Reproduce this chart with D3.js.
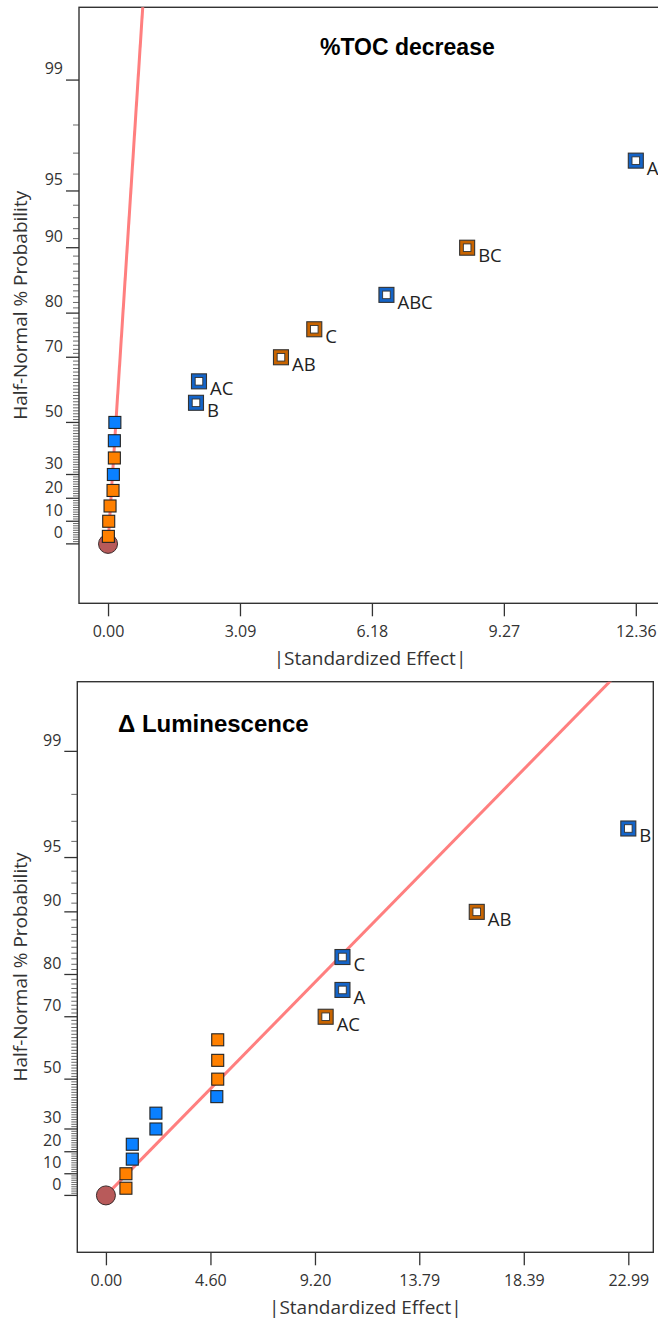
<!DOCTYPE html>
<html>
<head>
<meta charset="utf-8">
<script src="https://cdn.jsdelivr.net/npm/d3@7"></script>
<style>
  html, body { margin: 0; padding: 0; background: #fff; }
  svg { display: block; }
</style>
</head>
<body>
<svg id="chart" width="658" height="1321"></svg>
<script>
// ---------- DATA ----------
// Chart 1: %TOC decrease
const tocTerms = ["A", "BC", "ABC", "C", "AB", "AC", "B"];
const tocEffects = [12.36, 8.41, 6.52, 4.83, 4.05, 2.13, 2.06];
const tocProbs = [96.67, 90, 83.33, 76.67, 70, 63.33, 56.67];
const tocSigns = ["pos", "neg", "pos", "neg", "neg", "pos", "pos"];
const tocErrEffects = [0.16, 0.148, 0.148, 0.125, 0.117, 0.047, 0.016, 0.008];
const tocErrProbs = [50, 43.33, 36.67, 30, 23.33, 16.67, 10, 3.33];
const tocErrSigns = ["pos", "pos", "neg", "pos", "neg", "neg", "neg", "neg"];
const tocXTicks = [0.00, 3.09, 6.18, 9.27, 12.36];
const tocLineSlope = 0.2726; // effect per unit of half-normal z

// Chart 2: Δ Luminescence
const lumTerms = ["B", "AB", "C", "A", "AC"];
const lumEffects = [22.99, 16.32, 10.41, 10.41, 9.67];
const lumProbs = [96.67, 90, 83.33, 76.67, 70];
const lumSigns = ["pos", "neg", "pos", "pos", "neg"];
const lumErrEffects = [4.92, 4.92, 4.92, 4.88, 2.2, 2.2, 1.16, 1.16, 0.88, 0.88];
const lumErrProbs = [63.33, 56.67, 50, 43.33, 36.67, 30, 23.33, 16.67, 10, 3.33];
const lumErrSigns = ["neg", "neg", "neg", "pos", "pos", "pos", "pos", "pos", "neg", "neg"];
const lumXTicks = [0.00, 4.60, 9.20, 13.79, 18.39, 22.99];
const lumLineSlope = 7.44;

const yMajorTicks = [0, 10, 20, 30, 50, 70, 80, 90, 95, 99];

// ---------- HELPERS ----------
function probit(p) {
  const a = [-3.969683028665376e+01, 2.209460984245205e+02, -2.759285104469687e+02, 1.383577518672690e+02, -3.066479806614716e+01, 2.506628277459239e+00];
  const b = [-5.447609879822406e+01, 1.615858368580409e+02, -1.556989798598866e+02, 6.680131188771972e+01, -1.328068155288572e+01];
  const c = [-7.784894002430293e-03, -3.223964580411365e-01, -2.400758277161838e+00, -2.549671010161355e+00, 4.374664141464968e+00, 2.938163982698783e+00];
  const d = [7.784695709041462e-03, 3.224671290700398e-01, 2.445134137142996e+00, 3.754408661907416e+00];
  const pl = 0.02425, ph = 1 - pl;
  let q, r;
  if (p < pl) {
    q = Math.sqrt(-2 * Math.log(p));
    return (((((c[0]*q+c[1])*q+c[2])*q+c[3])*q+c[4])*q+c[5]) / ((((d[0]*q+d[1])*q+d[2])*q+d[3])*q+1);
  } else if (p <= ph) {
    q = p - 0.5; r = q * q;
    return (((((a[0]*r+a[1])*r+a[2])*r+a[3])*r+a[4])*r+a[5])*q / (((((b[0]*r+b[1])*r+b[2])*r+b[3])*r+b[4])*r+1);
  } else {
    q = Math.sqrt(-2 * Math.log(1 - p));
    return -(((((c[0]*q+c[1])*q+c[2])*q+c[3])*q+c[4])*q+c[5]) / ((((d[0]*q+d[1])*q+d[2])*q+d[3])*q+1);
  }
}
const zOf = pct => pct <= 0 ? 0 : probit(0.5 + pct / 200);

const COLORS = {
  posFill: "#0a80ff", negFill: "#ff8000",
  posRing: "#1464c8", negRing: "#c86400"
};

const svg = d3.select("#chart");
const FONT = "'Open Sans', 'Noto Sans', sans-serif";

function drawChart(cfg) {
  const x = d3.scaleLinear().domain(cfg.xDomain).range([cfg.left, cfg.right]);
  const y = d3.scaleLinear().domain([-0.33, 2.98]).range([cfg.bottom, cfg.top]);
  const g = svg.append("g");

  const clipId = "clip" + cfg.id;
  svg.append("clipPath").attr("id", clipId)
    .append("rect").attr("x", cfg.left).attr("y", cfg.top)
    .attr("width", cfg.right - cfg.left).attr("height", cfg.bottom - cfg.top);

  // frame
  g.append("rect").attr("x", cfg.left).attr("y", cfg.top)
    .attr("width", cfg.right - cfg.left).attr("height", cfg.bottom - cfg.top)
    .attr("fill", "none").attr("stroke", "#333").attr("stroke-width", 1.4);

  // y minor ticks
  const minor = d3.range(1, 99).filter(v => !yMajorTicks.includes(v));
  g.append("g").selectAll("line").data(minor).join("line")
    .attr("x1", cfg.left - 6).attr("x2", cfg.left)
    .attr("y1", d => y(zOf(d))).attr("y2", d => y(zOf(d)))
    .attr("stroke", "#444").attr("stroke-width", 0.8);
  // y major ticks
  g.append("g").selectAll("line").data(yMajorTicks).join("line")
    .attr("x1", cfg.left - 13).attr("x2", cfg.left)
    .attr("y1", d => y(zOf(d))).attr("y2", d => y(zOf(d)))
    .attr("stroke", "#333").attr("stroke-width", 1.3);
  g.append("g").selectAll("text").data(yMajorTicks).join("text")
    .attr("x", cfg.left - 16).attr("y", d => y(zOf(d)) - 10)
    .attr("text-anchor", "end").attr("dominant-baseline", "middle")
    .attr("font-family", FONT).attr("font-size", 16).attr("fill", "#333")
    .text(d => d);

  // y title
  g.append("text")
    .attr("transform", `translate(22,${(cfg.top + cfg.bottom) / 2}) rotate(-90)`)
    .attr("text-anchor", "middle").attr("dominant-baseline", "middle")
    .attr("font-family", FONT).attr("font-size", 19).attr("fill", "#333")
    .text("Half-Normal % Probability");

  // x axis
  const xa = g.append("g").attr("transform", `translate(0,${cfg.bottom})`)
    .call(d3.axisBottom(x).tickValues(cfg.xTicks).tickFormat(d3.format(".2f")).tickSize(13).tickPadding(9));
  xa.select(".domain").remove();
  xa.selectAll(".tick line").attr("stroke", "#333").attr("stroke-width", 1.3);
  xa.selectAll(".tick text").attr("font-family", FONT).attr("font-size", 16).attr("fill", "#333");
  g.append("text")
    .attr("x", (cfg.left + cfg.right) / 2).attr("y", cfg.bottom + 57)
    .attr("text-anchor", "middle").attr("dominant-baseline", "middle")
    .attr("font-family", FONT).attr("font-size", 19).attr("fill", "#333")
    .text("|Standardized Effect|");

  // fit line
  const pg = g.append("g").attr("clip-path", `url(#${clipId})`);
  pg.append("line")
    .attr("x1", x(0)).attr("y1", y(0))
    .attr("x2", x(cfg.slope * 3.2)).attr("y2", y(3.2))
    .attr("stroke", "#ff7f7f").attr("stroke-width", 3);

  // origin circle
  pg.append("circle").attr("cx", x(0)).attr("cy", y(0)).attr("r", 9.5)
    .attr("fill", "#b85a5a").attr("stroke", "#3a2a2a").attr("stroke-width", 1);

  // error points
  const errs = cfg.errEffects.map((e, i) => ({ e, p: cfg.errProbs[i], s: cfg.errSigns[i] }));
  pg.append("g").selectAll("rect").data(errs).join("rect")
    .attr("x", d => x(d.e) - 6).attr("y", d => y(zOf(d.p)) - 6)
    .attr("width", 12).attr("height", 12)
    .attr("fill", d => d.s === "pos" ? COLORS.posFill : COLORS.negFill)
    .attr("stroke", "#222").attr("stroke-width", 1.1);

  // labeled effects
  const eff = cfg.effects.map((e, i) => ({ e, p: cfg.probs[i], s: cfg.signs[i], t: cfg.terms[i] }));
  const eg = g.append("g").selectAll("g").data(eff).join("g")
    .attr("transform", d => `translate(${x(d.e)},${y(zOf(d.p))})`);
  eg.append("rect").attr("x", -7.5).attr("y", -7.5).attr("width", 15).attr("height", 15)
    .attr("fill", d => d.s === "pos" ? COLORS.posRing : COLORS.negRing)
    .attr("stroke", "#333").attr("stroke-width", 1.1);
  eg.append("rect").attr("x", -3.8).attr("y", -3.8).attr("width", 7.6).attr("height", 7.6)
    .attr("fill", "#fff").attr("stroke", "#333").attr("stroke-width", 0.9);
  eg.append("text").attr("x", 11).attr("y", 14)
    .attr("font-family", FONT).attr("font-size", 18.5).attr("fill", "#222")
    .text(d => d.t);

  // title
  g.append("text").attr("x", cfg.titleX).attr("y", cfg.titleY)
    .attr("font-family", "'Liberation Sans', Arial, sans-serif").attr("font-weight", "bold")
    .attr("font-size", cfg.titleSize).attr("fill", "#000")
    .text(cfg.title);
}

drawChart({
  id: 1, left: 79, right: 661, top: 7.3, bottom: 603.3,
  xDomain: [-0.68, 12.95], xTicks: tocXTicks, slope: tocLineSlope,
  terms: tocTerms, effects: tocEffects, probs: tocProbs, signs: tocSigns,
  errEffects: tocErrEffects, errProbs: tocErrProbs, errSigns: tocErrSigns,
  title: "%TOC decrease", titleX: 320, titleY: 55, titleSize: 23
});

drawChart({
  id: 2, left: 77.3, right: 653.3, top: 681.7, bottom: 1252.3,
  xDomain: [-1.26, 24.09], xTicks: lumXTicks, slope: lumLineSlope,
  terms: lumTerms, effects: lumEffects, probs: lumProbs, signs: lumSigns,
  errEffects: lumErrEffects, errProbs: lumErrProbs, errSigns: lumErrSigns,
  title: "Δ Luminescence", titleX: 118, titleY: 732, titleSize: 24
});
</script>
</body>
</html>
